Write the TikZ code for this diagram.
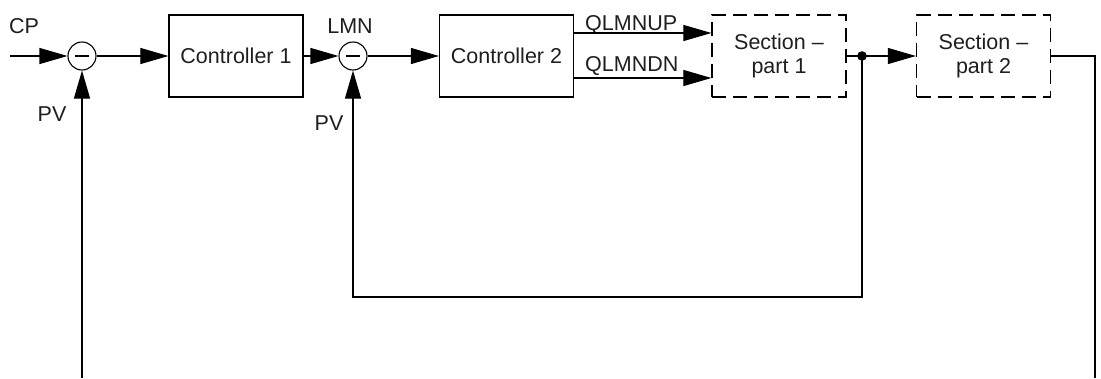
\documentclass[tikz,border=0pt]{standalone}
\usepackage{fontspec}
\setmainfont{Liberation Sans}
\usetikzlibrary{arrows.meta,calc}
\definecolor{txt}{RGB}{30,30,30}
\begin{document}
\begin{tikzpicture}[x=1pt,y=-1pt,
  every node/.style={font=\fontsize{21.5}{25}\selectfont, text=txt},
  blk/.style={draw, line width=1.2pt, minimum width=134pt, minimum height=82pt, inner sep=0pt, align=center},
  dblk/.style={blk, dash pattern=on 14pt off 7pt},
  sumc/.style={draw, circle, line width=1.1pt, minimum size=28pt, inner sep=0pt},
  wire/.style={line width=1.1pt},
  arr/.style={wire, -{Triangle[length=28pt,width=16pt]}},
  lbl/.style={inner sep=0pt}
]
\useasboundingbox (0,0) rectangle (1101,378);

\node[sumc] (s1) at (82,56) {};
\node[sumc] (s2) at (353,56) {};
\draw[line width=1.1pt] ($(s1)+(-7,0)$) -- ($(s1)+(7,0)$);
\draw[line width=1.1pt] ($(s2)+(-7,0)$) -- ($(s2)+(7,0)$);
\node[blk] (c1) at (236,56) {Controller 1};
\node[blk] (c2) at (506.5,56) {Controller 2};
\node[dblk] (p1) at (779,56) {Section --\\[-1pt]part 1};
\node[dblk] (p2) at (983.5,56) {Section --\\[-1pt]part 2};

\coordinate (in) at (10,56);
\coordinate (pv1) at (82,378);
\coordinate (dot) at (862,56);
\coordinate (fb1) at (862,297);
\coordinate (fb2) at (353,297);
\coordinate (o1) at (1095,56);
\coordinate (o2) at (1095,378);

\node[lbl] (cp) at (24,26) {CP};
\node[lbl] (pva) at (52,114) {PV};
\node[lbl] (lmn) at (350,26) {LMN};
\node[lbl] (pvb) at (329,123) {PV};
\node[lbl, anchor=west] (up) at (585,25) {QLMNUP};
\node[lbl, anchor=west] (dn) at (585,66) {QLMNDN};

\draw[arr] (in) -- (s1);
\draw[arr] (pv1) -- (s1);
\draw[arr] (s1) -- (c1);
\draw[arr] (c1) -- (s2);
\draw[arr] (s2) -- (c2);
\draw[arr] (c2.east |- 0,33) -- (p1.west |- 0,33);
\draw[arr] (c2.east |- 0,78) -- (p1.west |- 0,78);
\draw[arr] (p1) -- (p2);
\draw[wire] (p2) -- (o1) -- (o2);
\draw[arr] (dot) -- (fb1) -- (fb2) -- (s2);
\fill (dot) circle (4.8pt);
\end{tikzpicture}
\end{document}
